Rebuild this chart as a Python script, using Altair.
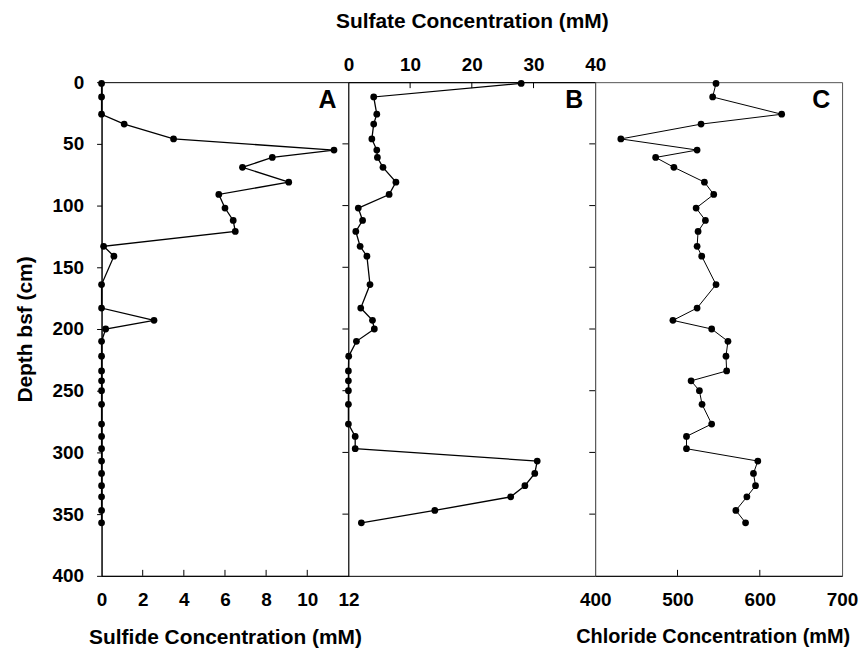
import altair as alt
import pandas as pd

# ---- data ----
depth = [1, 12, 26, 34, 46, 55, 61, 69, 81, 91, 102, 112, 121, 133, 141, 164, 183, 193, 200, 210,
         222, 234, 242, 250, 261, 277, 287, 297, 307, 317, 327, 336, 347, 357]
sulfide = [0, 0, 0, 1.1, 3.5, 11.3, 8.3, 6.85, 9.1, 5.7, 6.0, 6.4, 6.5, 0.1, 0.6, 0, 0, 2.55, 0.2, 0,
           0, 0, 0, 0, 0, 0, 0, 0, 0, 0, 0, 0, 0, 0]
sulfate = [28.0, 4.1, 4.6, 4.1, 3.8, 4.6, 4.7, 5.6, 7.7, 6.6, 1.6, 2.3, 1.2, 1.9, 3.0, 3.5, 2.0, 3.9, 4.2, 1.3,
           0.05, 0, 0, 0, 0, 0, 1.1, 1.1, 30.6, 30.2, 28.6, 26.3, 14.0, 2.1]
chloride = [546.8, 542.7, 626.6, 528.6, 431.1, 523.8, 473.4, 495.6, 532.7, 544.0, 522.6, 533.9, 525.0, 523.8,
            529.4, 546.8, 523.8, 494.4, 541.5, 561.3, 558.9, 559.7, 516.5, 526.6, 529.8, 541.5, 510.9, 510.9,
            597.6, 592.3, 594.8, 584.3, 570.9, 582.7]

depth_ticks = [0, 50, 100, 150, 200, 250, 300, 350, 400]
sulfide_ticks = [0, 2, 4, 6, 8, 10, 12]
sulfate_ticks = [0, 10, 20, 30, 40]
chloride_ticks = [400, 500, 600, 700]
panel_letters = ["A", "B", "C"]

W, H = 248, 496
FONT = "Liberation Sans"
LBL = 19
TTL = 21

df = pd.DataFrame({"depth": depth, "sulfide": sulfide, "sulfate": sulfate, "chloride": chloride})
ydf = pd.DataFrame({"t": depth_ticks[1:-1]})

yscale = alt.Scale(domain=[0, 400], reverse=True, nice=False, zero=False)


def xaxis(title, values, orient, lp, tp, tsize=TTL, tx=W / 2):
    return alt.Axis(title=title, values=values, orient=orient, tickSize=0, labelFlush=False,
                    labelOverlap=False, labelFont=FONT, labelFontSize=LBL, labelFontWeight="bold",
                    labelColor="black", titleFont=FONT, titleFontSize=tsize, titleFontWeight="bold",
                    titleColor="black", labelPadding=lp, titlePadding=tp, grid=False,
                    domainColor="black", format="d", labelAngle=0, titleX=tx, titleAlign="center")


def panel(field, domain, axis, yaxis, letter, inner_x, x_tick_top, right_ticks, lw, frame):
    xscale = alt.Scale(domain=domain, nice=False, zero=False)
    x = alt.X(f"{field}:Q", scale=xscale, axis=axis)
    y = alt.Y("depth:Q", scale=yscale, axis=yaxis)
    base = alt.Chart(df)
    line = base.mark_line(color="black", strokeWidth=lw).encode(x=x, y=y, order="depth:Q")
    pts = base.mark_circle(color="black", size=46, opacity=1).encode(x=x, y=y)
    layers = [line, pts]
    # inward ticks on the x axis
    xt = pd.DataFrame({field: inner_x})
    if x_tick_top:
        rule_x = alt.Chart(xt).mark_rule(color="black", strokeWidth=1).encode(
            x=alt.X(f"{field}:Q", scale=xscale, axis=axis), y=alt.value(0), y2=alt.value(6))
    else:
        rule_x = alt.Chart(xt).mark_rule(color="black", strokeWidth=1).encode(
            x=alt.X(f"{field}:Q", scale=xscale, axis=axis), y=alt.value(H - 6), y2=alt.value(H))
    layers.append(rule_x)
    if right_ticks:
        rule_y = alt.Chart(ydf).mark_rule(color="black", strokeWidth=1).encode(
            y=alt.Y("t:Q", scale=yscale, axis=yaxis), x=alt.value(W - 6), x2=alt.value(W))
        layers.append(rule_y)
    txt = alt.Chart(pd.DataFrame({"l": [letter]})).mark_text(
        font=FONT, fontSize=25, fontWeight="bold", color="black", align="right", baseline="top"
    ).encode(text="l:N", x=alt.value(W - 12), y=alt.value(6))
    layers.append(txt)
    return alt.layer(*layers).properties(
        width=W, height=H, view=alt.ViewBackground(stroke=frame, strokeWidth=1, fill="white"))


yaxis_main = alt.Axis(title="Depth bsf (cm)", values=depth_ticks, tickSize=5, tickColor="black",
                      domainColor="black", labelFont=FONT, labelFontSize=LBL, labelFontWeight="bold",
                      labelColor="black", titleFont=FONT, titleFontSize=TTL, titleFontWeight="bold",
                      titleColor="black", labelPadding=13, titlePadding=17, grid=False,
                      labelOverlap=False, labelFlush=False)

pa = panel("sulfide", [0, 12], xaxis("Sulfide Concentration (mM)", sulfide_ticks, "bottom", 15, 17),
           yaxis_main, panel_letters[0], sulfide_ticks[1:-1], False, True, 1.3, "black")
pb = panel("sulfate", [0, 40], xaxis("Sulfate Concentration (mM)", sulfate_ticks, "top", 8, 24),
           None, panel_letters[1], sulfate_ticks[1:-1], True, True, 1.3, "black")
pc = panel("chloride", [400, 700],
           xaxis("Chloride Concentration (mM)", chloride_ticks, "bottom", 15, 17, tsize=20, tx=W / 2 - 6),
           None, panel_letters[2], chloride_ticks[1:-1], False, False, 1.0, "#555555")

chart = alt.hconcat(pa, pb, pc, spacing=0, bounds="flush").configure(
    background="white", padding={"left": 5, "top": 0, "right": 0, "bottom": 0}
).configure_view(stroke="black")

chart.save("out.html", embed_options={"renderer": "svg", "actions": False})
